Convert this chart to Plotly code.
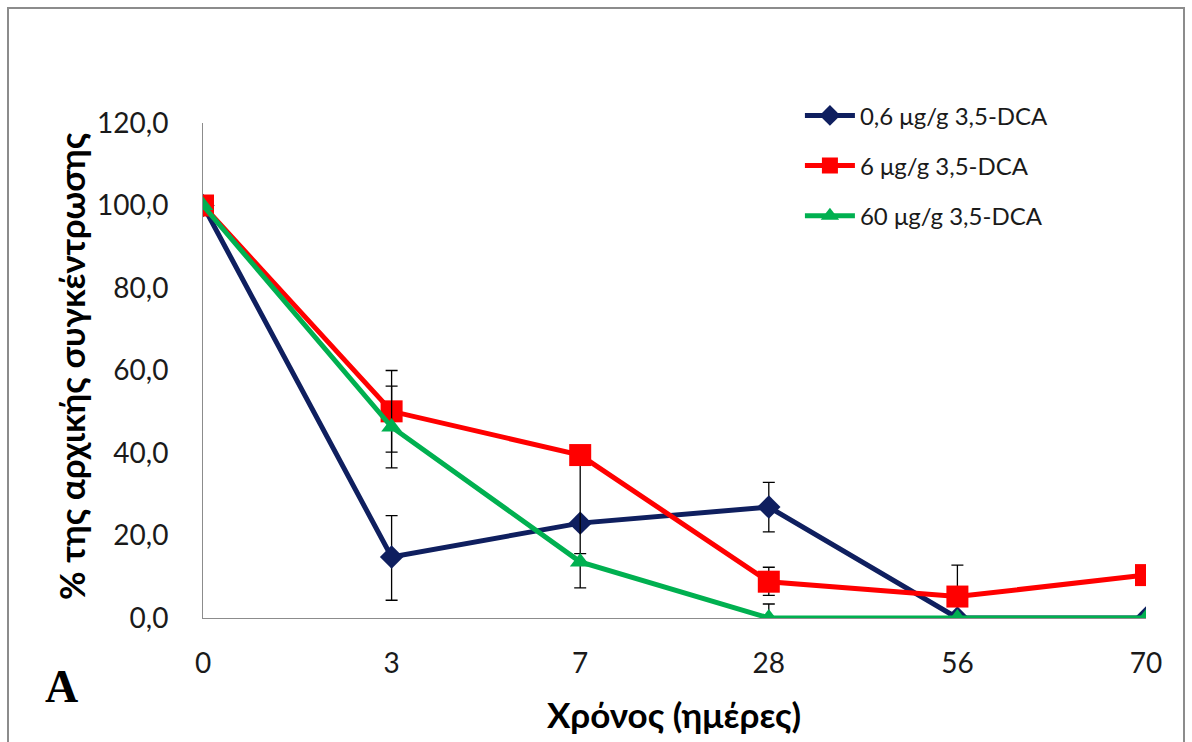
import plotly.graph_objects as go

days = ["0", "3", "7", "28", "56", "70"]
s1_name = "0,6 μg/g 3,5-DCA"
s1 = [100.0, 14.8, 23.0, 26.9, 0.0, 0.0]
s1_err_plus = [0, 10.0, 0, 6.0, 0, 0]
s1_err_minus = [0, 10.5, 0, 6.0, 0, 0]
s2_name = "6 μg/g 3,5-DCA"
s2 = [100.0, 50.1, 39.5, 8.8, 5.2, 10.4]
s2_err_plus = [0, 9.9, 0, 3.5, 7.6, 0]
s2_err_minus = [0, 9.9, 32.2, 3.3, 0, 0]
s3_name = "60 μg/g 3,5-DCA"
s3 = [100.0, 46.3, 13.6, 0.0, 0.0, 0.0]
s3_err_plus = [0, 9.9, 2.0, 3.4, 0, 0]
s3_err_minus = [0, 9.9, 0, 0, 0, 0]
y_ticks = [0, 20, 40, 60, 80, 100, 120]

FONT = "Lato"
fig = go.Figure()

def add(name, y, ep, em, color, symbol, size, group):
    fig.add_trace(go.Scatter(
        x=days, y=y, name=name, mode="lines+markers", legendgroup=group,
        line=dict(color=color, width=5),
        marker=dict(symbol=symbol, size=size, color=color),
        error_y=dict(type="data", symmetric=False, array=ep, arrayminus=em,
                     color="black", thickness=1.3, width=6),
    ))

add(s1_name, s1, s1_err_plus, s1_err_minus, "#0f1f5f", "diamond", 18, "a")
add(s2_name, s2, s2_err_plus, s2_err_minus, "#ff0000", "square", 22, "b")
add(s3_name, s3, s3_err_plus, s3_err_minus, "#00b050", "triangle-up", 18, "c")

fig.update_layout(
    width=1192, height=742,
    margin=dict(l=203, r=46, t=123, b=124),
    paper_bgcolor="white", plot_bgcolor="white",
    separators=",.",
    showlegend=True,
    legend=dict(x=0.633, y=1.06, xanchor="left", yanchor="top",
                font=dict(family=FONT, size=24, color="#1a1a1a"),
                bgcolor="rgba(0,0,0,0)", tracegroupgap=16,
                traceorder="grouped", itemwidth=50),
    xaxis=dict(type="category", range=[0, 5], showline=True, linecolor="#8c8c8c",
               linewidth=1, ticks="", showgrid=False, zeroline=False,
               ticklabelstandoff=20,
               tickfont=dict(family=FONT, size=28, color="#1a1a1a")),
    yaxis=dict(range=[0, 120], tickvals=y_ticks, tickformat=".1f", showline=True,
               linecolor="#8c8c8c", linewidth=1, ticks="", showgrid=False,
               zeroline=False, ticklabelstandoff=28,
               tickfont=dict(family=FONT, size=28, color="#1a1a1a")),
    annotations=[
        dict(text="<b>% της αρχικής συγκέντρωσης</b>", xref="paper", yref="paper",
             x=(71 - 203) / 943, y=(618 - 366) / 495, textangle=-90, showarrow=False,
             font=dict(family=FONT, size=35, color="black"), xanchor="center", yanchor="middle"),
        dict(text="<b>Χρόνος (ημέρες)</b>", xref="paper", yref="paper",
             x=(674 - 203) / 943, y=(618 - 714) / 495, showarrow=False,
             font=dict(family=FONT, size=35, color="black"), xanchor="center", yanchor="middle"),
        dict(text="<b>A</b>", xref="paper", yref="paper",
             x=(61 - 203) / 943, y=(618 - 686) / 495, showarrow=False,
             font=dict(family="Liberation Serif", size=46, color="black"),
             xanchor="center", yanchor="middle"),
    ],
    shapes=[dict(type="rect", xref="paper", yref="paper",
                 x0=(8 - 203) / 943, x1=(1184 - 203) / 943,
                 y0=(618 - 750) / 495, y1=(618 - 8) / 495,
                 line=dict(color="#8c8c8c", width=2))],
)

fig.write_html("out.html")
